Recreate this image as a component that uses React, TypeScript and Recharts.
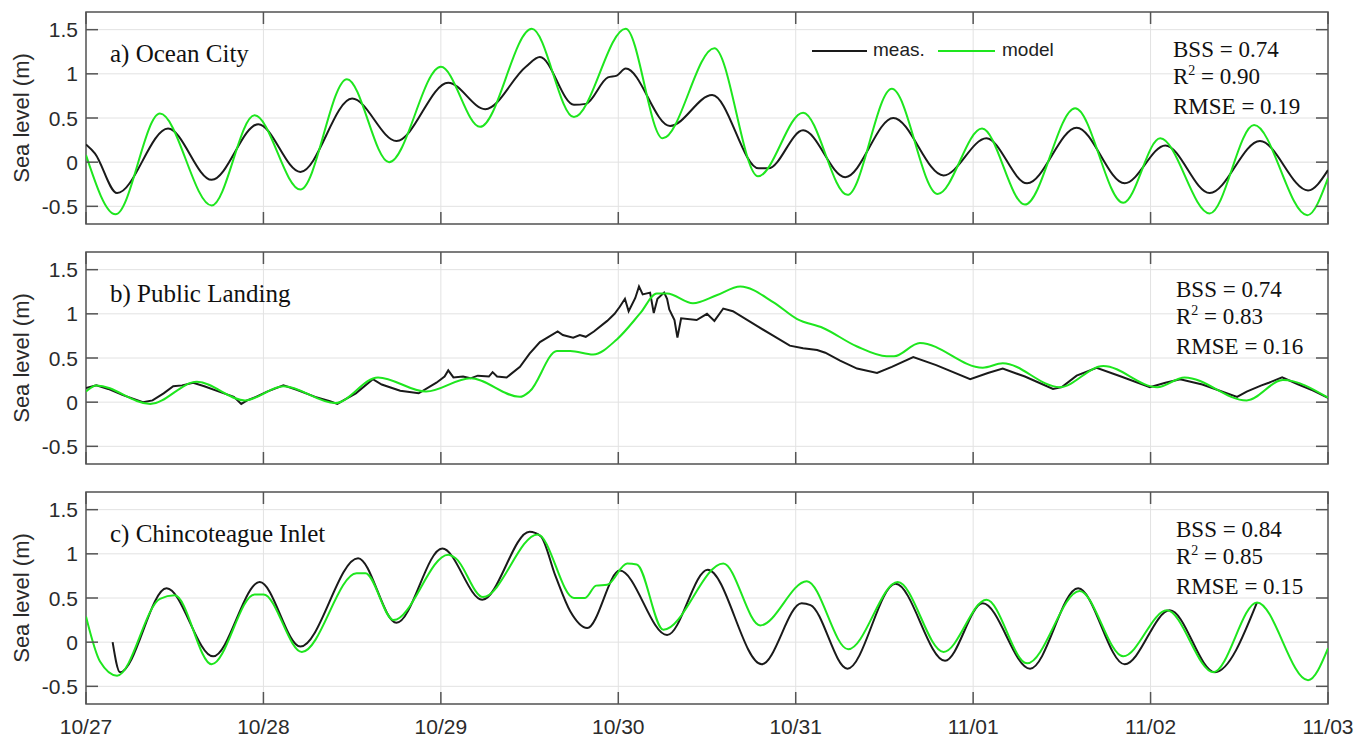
import React from "react";
import {
  LineChart,
  Line,
  XAxis,
  YAxis,
  CartesianGrid,
  ReferenceArea,
} from "recharts";

// x axis: hours since 10/27 00:00
const dayTicks = [0, 24, 48, 72, 96, 120, 144, 168];
const dayLabels = ["10/27", "10/28", "10/29", "10/30", "10/31", "11/01", "11/02", "11/03"];
const levelTicks = [-0.5, 0, 0.5, 1, 1.5];

// a) Ocean City
const ocMeasHours = [0, 1.2, 4.2, 11.1, 17, 23.3, 29, 36, 42, 49, 54, 59.5, 61.4, 66, 67.6, 70.6, 71.8, 73, 79, 84.7, 91, 92.3, 97, 102.7, 109.2, 116, 121.8, 127.3, 134, 140.5, 146, 152, 158.8, 165.3, 168];
const ocMeasLevel = [0.2, 0.1, -0.35, 0.38, -0.2, 0.43, -0.11, 0.72, 0.24, 0.9, 0.6, 1.08, 1.19, 0.65, 0.66, 0.96, 0.98, 1.06, 0.41, 0.76, -0.07, -0.07, 0.36, -0.17, 0.5, -0.15, 0.27, -0.24, 0.39, -0.24, 0.19, -0.35, 0.24, -0.32, -0.09];
const ocModelHours = [0, 4, 10, 17, 22.8, 29, 35.3, 41, 48, 53.3, 60.3, 66, 73, 78, 85, 90.9, 97, 103, 109, 115.2, 121.2, 127, 133.8, 140.3, 145.3, 152, 158, 165.2, 168];
const ocModelLevel = [0.08, -0.59, 0.55, -0.49, 0.53, -0.31, 0.94, 0.0, 1.08, 0.4, 1.51, 0.51, 1.51, 0.27, 1.29, -0.16, 0.56, -0.37, 0.83, -0.36, 0.38, -0.48, 0.61, -0.46, 0.27, -0.58, 0.42, -0.6, -0.18];

// b) Public Landing
const plMeasHours = [0, 1.4, 3, 5, 7.7, 9, 10.5, 11.8, 13, 14.5, 16, 18, 20, 21, 21.8, 23, 24.5, 26.7, 28.5, 31, 33, 34, 35, 36.5, 38.8, 40, 42.5, 45, 47.4, 48.5, 49, 49.7, 51, 52, 53, 54.5, 55, 55.6, 56.9, 58.7, 60, 61.4, 63.8, 64.5, 65.9, 66.8, 67.6, 68.7, 70.5, 71.5, 72.2, 72.9, 73.4, 74.3, 74.8, 75.3, 76.3, 76.8, 77.3, 78.2, 78.6, 78.9, 79.6, 80, 80.5, 82.6, 84, 85, 86.2, 87.5, 90.8, 93, 95.2, 97, 98.9, 100, 102, 104.3, 107, 109, 111.9, 115, 119.6, 122, 124, 127, 130.8, 132, 134, 136.7, 140, 143.9, 146, 148, 151, 155.7, 157, 159, 160, 161.8, 164, 166, 168];
const plMeasLevel = [0.16, 0.19, 0.15, 0.08, 0.0, 0.02, 0.1, 0.18, 0.19, 0.22, 0.18, 0.12, 0.06, -0.02, 0.02, 0.06, 0.12, 0.19, 0.14, 0.06, 0.01, -0.02, 0.03, 0.1, 0.26, 0.2, 0.13, 0.1, 0.22, 0.29, 0.36, 0.28, 0.29, 0.27, 0.3, 0.29, 0.34, 0.29, 0.28, 0.4, 0.55, 0.68, 0.8, 0.76, 0.73, 0.76, 0.74, 0.8, 0.92, 1.0, 1.08, 1.17, 1.03, 1.18, 1.31, 1.22, 1.24, 1.01, 1.17, 1.24, 1.17, 1.05, 0.93, 0.73, 0.95, 0.93, 1.0, 0.92, 1.06, 1.03, 0.86, 0.75, 0.64, 0.61, 0.59, 0.56, 0.47, 0.38, 0.33, 0.4, 0.51, 0.42, 0.26, 0.33, 0.38, 0.29, 0.15, 0.17, 0.3, 0.39, 0.29, 0.17, 0.22, 0.26, 0.2, 0.06, 0.12, 0.19, 0.22, 0.28, 0.2, 0.13, 0.05];
const plModelHours = [0, 1.4, 8.7, 15, 21.5, 26.7, 33.7, 39.5, 46, 52, 58.7, 60, 63.7, 65.5, 68.6, 71.8, 75, 77.2, 78.6, 82.1, 85.3, 88.5, 93, 96.2, 99.7, 104.3, 108.3, 109.3, 112.8, 121.3, 124, 131.7, 137.6, 144.9, 148.6, 157, 161.9, 168];
const plModelLevel = [0.12, 0.19, -0.02, 0.23, 0.02, 0.18, -0.01, 0.28, 0.12, 0.27, 0.06, 0.12, 0.58, 0.58, 0.54, 0.71, 1.01, 1.23, 1.23, 1.12, 1.21, 1.31, 1.13, 0.94, 0.84, 0.63, 0.52, 0.52, 0.67, 0.39, 0.44, 0.17, 0.41, 0.17, 0.28, 0.02, 0.25, 0.05];

// c) Chincoteague Inlet
const ciMeasHours = [3.6, 4.6, 10.9, 17.2, 23.5, 29, 36.8, 42, 48.2, 53.6, 60, 61.5, 63.5, 65.5, 67.8, 72.2, 78.6, 84.1, 91.4, 96.8, 98, 103, 109.5, 116.2, 121.3, 127.7, 134.2, 140.5, 146.6, 152.7, 158.4];
const ciMeasLevel = [0.0, -0.34, 0.61, -0.16, 0.68, -0.05, 0.95, 0.22, 1.06, 0.48, 1.25, 1.2, 0.75, 0.35, 0.16, 0.81, 0.08, 0.82, -0.25, 0.44, 0.42, -0.3, 0.66, -0.21, 0.44, -0.3, 0.61, -0.25, 0.36, -0.34, 0.45];
const ciModelHours = [0, 1.9, 4.2, 10, 12, 17, 22.8, 24, 29.2, 36.6, 37.8, 41.6, 49, 50, 53.7, 61.1, 66, 67.5, 69, 70.5, 73.2, 74.5, 78.1, 86.2, 91.2, 97.5, 103.1, 109.8, 116, 121.8, 127.3, 134.4, 140.3, 146.2, 152.5, 158.4, 165.3, 168];
const ciModelLevel = [0.29, -0.22, -0.38, 0.49, 0.53, -0.25, 0.54, 0.54, -0.11, 0.78, 0.78, 0.25, 0.99, 0.95, 0.51, 1.22, 0.5, 0.5, 0.64, 0.65, 0.89, 0.88, 0.14, 0.89, 0.19, 0.69, -0.08, 0.68, -0.11, 0.48, -0.24, 0.58, -0.16, 0.36, -0.34, 0.45, -0.43, -0.07];

const W = 1357;
const PLOT_L = 86;
const PLOT_R = 1328;
const PLOT_T = 12;
const PLOT_B = 224;
const TICK = 12;
const GREEN = "#1ee61e";
const BLACK = "#1a1a1a";
const FRAME = "#555";
const SANS = "'Liberation Sans', Arial, sans-serif";
const SERIF = "'Liberation Serif', 'Times New Roman', serif";

const zip = (h: number[], v: number[]) => h.map((t, i) => ({ t, v: v[i] }));

function YTick(props: any) {
  const { y, payload } = props;
  return (
    <g>
      <line x1={PLOT_L} x2={PLOT_L + TICK} y1={y} y2={y} stroke={FRAME} strokeWidth={1.5} />
      <line x1={PLOT_R - TICK} x2={PLOT_R} y1={y} y2={y} stroke={FRAME} strokeWidth={1.5} />
      <text x={78} y={y} dy={7.5} textAnchor="end" fontSize={21} fontFamily={SANS} fill="#2b2b2b">
        {String(payload.value)}
      </text>
    </g>
  );
}

function makeXTick(showDates: boolean) {
  return (props: any) => {
    const { x, payload } = props;
    const label = dayLabels[dayTicks.indexOf(payload.value)];
    return (
      <g>
        <line x1={x} x2={x} y1={PLOT_B} y2={PLOT_B - TICK} stroke={FRAME} strokeWidth={1.5} />
        <line x1={x} x2={x} y1={PLOT_T} y2={PLOT_T + TICK} stroke={FRAME} strokeWidth={1.5} />
        {showDates && (
          <text x={x} y={PLOT_B + 30} textAnchor="middle" fontSize={21} fontFamily={SANS} fill="#2b2b2b">
            {label}
          </text>
        )}
      </g>
    );
  };
}

interface PanelProps {
  top: number;
  height: number;
  title: string;
  stats: [string, string, string];
  statsLeft: number;
  meas: { t: number; v: number }[];
  model: { t: number; v: number }[];
  measType: "monotone" | "linear";
  showDates?: boolean;
  legend?: boolean;
}

function Panel({ top, height, title, stats, statsLeft, meas, model, measType, showDates = false, legend = false }: PanelProps) {
  const xh = showDates ? 30 : 10;
  return (
    <div style={{ position: "absolute", left: 0, top, width: W, height }}>
      <LineChart
        width={W}
        height={height}
        margin={{ top: PLOT_T, right: W - PLOT_R, left: PLOT_L - 60, bottom: height - PLOT_B - xh }}
      >
        <CartesianGrid stroke="#e2e2e2" strokeWidth={1} />
        <XAxis
          type="number"
          dataKey="t"
          domain={[0, 168]}
          ticks={dayTicks}
          interval={0}
          height={xh}
          axisLine={false}
          tickLine={false}
          tick={makeXTick(showDates)}
          allowDataOverflow
        />
        <YAxis
          type="number"
          domain={[-0.7, 1.7]}
          ticks={levelTicks}
          interval={0}
          width={60}
          axisLine={false}
          tickLine={false}
          tick={<YTick />}
          allowDataOverflow
        />
        <ReferenceArea x1={0} x2={168} y1={-0.7} y2={1.7} fill="none" stroke={FRAME} strokeWidth={1.5} ifOverflow="visible" />
        <Line data={meas} dataKey="v" type={measType} stroke={BLACK} strokeWidth={2} dot={false} isAnimationActive={false} />
        <Line data={model} dataKey="v" type="monotone" stroke={GREEN} strokeWidth={2} dot={false} isAnimationActive={false} />
      </LineChart>

      <div
        style={{
          position: "absolute",
          left: 22,
          top: (PLOT_T + PLOT_B) / 2,
          transform: "translate(-50%, -50%) rotate(-90deg)",
          fontFamily: SANS,
          fontSize: 22,
          color: "#2b2b2b",
          whiteSpace: "nowrap",
        }}
      >
        Sea level (m)
      </div>

      <div
        style={{
          position: "absolute",
          left: 110,
          top: 40,
          fontFamily: SERIF,
          fontSize: 25,
          lineHeight: "28px",
          color: "#111",
          whiteSpace: "nowrap",
        }}
      >
        {title}
      </div>

      <div
        style={{
          position: "absolute",
          left: statsLeft,
          top: 36,
          fontFamily: SERIF,
          fontSize: 23,
          lineHeight: "27px",
          color: "#111",
          whiteSpace: "nowrap",
        }}
      >
        <div>{stats[0]}</div>
        <div>
          R<span style={{ fontSize: 14, position: "relative", top: -9 }}>2</span>
          {stats[1]}
        </div>
        <div>{stats[2]}</div>
      </div>

      {legend && (
        <div style={{ position: "absolute", left: 812, top: 41, height: 20, fontFamily: SANS, fontSize: 19, color: "#222" }}>
          <div style={{ position: "absolute", left: 0, top: 9, width: 55, height: 2, background: BLACK }} />
          <div style={{ position: "absolute", left: 61, top: -2, whiteSpace: "nowrap" }}>meas.</div>
          <div style={{ position: "absolute", left: 126, top: 9, width: 57, height: 2, background: GREEN }} />
          <div style={{ position: "absolute", left: 190, top: -2, whiteSpace: "nowrap" }}>model</div>
        </div>
      )}
    </div>
  );
}

export default function App() {
  return (
    <div style={{ position: "absolute", left: 0, top: 0, width: W, height: 737, background: "#fff", overflow: "hidden" }}>
      <Panel
        top={0}
        height={240}
        title="a) Ocean City"
        stats={["BSS = 0.74", " = 0.90", "RMSE = 0.19"]}
        statsLeft={1173}
        meas={zip(ocMeasHours, ocMeasLevel)}
        model={zip(ocModelHours, ocModelLevel)}
        measType="monotone"
        legend
      />
      <Panel
        top={240}
        height={240}
        title="b) Public Landing"
        stats={["BSS = 0.74", " = 0.83", "RMSE = 0.16"]}
        statsLeft={1176}
        meas={zip(plMeasHours, plMeasLevel)}
        model={zip(plModelHours, plModelLevel)}
        measType="linear"
      />
      <Panel
        top={480}
        height={257}
        title="c) Chincoteague Inlet"
        stats={["BSS = 0.84", " = 0.85", "RMSE = 0.15"]}
        statsLeft={1176}
        meas={zip(ciMeasHours, ciMeasLevel)}
        model={zip(ciModelHours, ciModelLevel)}
        measType="monotone"
        showDates
      />
    </div>
  );
}
